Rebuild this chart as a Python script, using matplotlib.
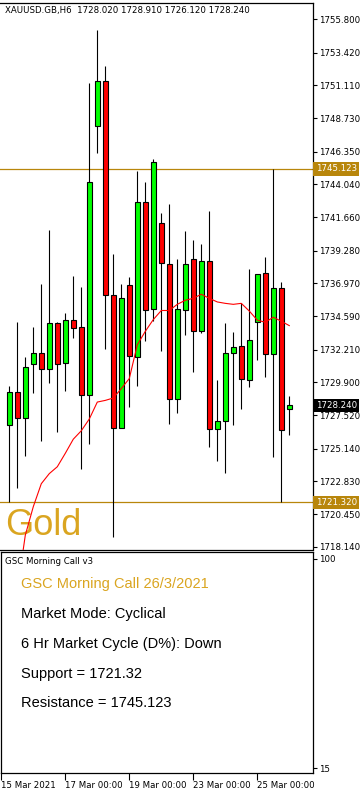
import numpy as np
import matplotlib
matplotlib.use("Agg")
import matplotlib.pyplot as plt
from matplotlib.transforms import blended_transform_factory

# H6 candles, 15 Mar - 26 Mar 2021
opens = [1726.88, 1729.14, 1727.38, 1731.21, 1731.93, 1730.85, 1734.08, 1731.28, 1734.34,
         1733.81, 1729.02, 1748.23, 1751.36, 1736.12, 1726.66, 1736.84, 1731.72, 1742.76,
         1735.13, 1741.25, 1738.33, 1728.73, 1735.06, 1738.69, 1733.57, 1738.55, 1726.59,
         1727.17, 1732.00, 1732.44, 1730.10, 1734.24, 1737.66, 1731.91, 1736.63, 1728.02]
highs = [1729.60, 1734.17, 1731.72, 1733.81, 1736.87, 1740.79, 1734.17, 1734.80, 1737.49,
         1736.70, 1751.26, 1755.06, 1752.46, 1739.08, 1736.87, 1737.37, 1745.00, 1744.21,
         1745.80, 1741.99, 1742.64, 1738.72, 1740.72, 1740.07, 1739.78, 1742.14, 1730.03,
         1734.10, 1733.45, 1735.57, 1738.00, 1737.59, 1738.81, 1745.123, 1737.08, 1728.91]
lows = [1721.32, 1722.35, 1724.62, 1729.12, 1725.70, 1729.84, 1726.30, 1729.26, 1733.04,
        1723.72, 1725.46, 1746.28, 1732.27, 1718.84, 1726.59, 1728.13, 1729.62, 1732.85,
        1734.24, 1732.12, 1726.93, 1727.70, 1733.26, 1730.63, 1733.40, 1725.29, 1724.28,
        1723.39, 1726.80, 1727.94, 1729.57, 1731.47, 1730.27, 1724.57, 1721.32, 1726.12]
closes = [1729.14, 1727.38, 1730.92, 1731.93, 1730.85, 1734.08, 1731.21, 1734.34, 1733.81,
          1729.02, 1744.16, 1751.36, 1736.12, 1726.66, 1735.86, 1731.79, 1742.76, 1735.06,
          1745.60, 1738.40, 1728.73, 1735.13, 1738.33, 1733.57, 1738.55, 1726.59, 1727.09,
          1731.93, 1732.36, 1730.15, 1732.87, 1737.59, 1731.91, 1736.63, 1726.52, 1728.24]
ma = [1711.5, 1715.0, 1718.96, 1721.00, 1722.64, 1723.36, 1723.85, 1724.81, 1725.82,
      1726.42, 1727.26, 1728.47, 1728.59, 1728.76, 1729.43, 1730.15, 1732.56, 1733.52,
      1734.36, 1735.01, 1735.01, 1735.45, 1735.74, 1735.88, 1736.17, 1735.88, 1735.62,
      1735.52, 1735.45, 1735.52, 1734.97, 1734.32, 1734.17, 1734.53, 1734.24, 1733.93]

support = 1721.32
resistance = 1745.123
price_ticks = [1755.800, 1753.420, 1751.110, 1748.730, 1746.350, 1744.040, 1741.660,
               1739.280, 1736.970, 1734.590, 1732.210, 1729.900, 1727.520, 1725.140,
               1722.830, 1720.450, 1718.140]
date_pos = [-1, 7, 15, 23, 31]
date_labels = ["15 Mar 2021", "17 Mar 00:00", "19 Mar 00:00", "23 Mar 00:00", "25 Mar 00:00"]
info_lines = ["Market Mode: Cyclical", "6 Hr Market Cycle (D%): Down",
              "Support = 1721.32", "Resistance = 1745.123"]

W, H = 362, 790
GOLD_LINE = "#B8860B"
GOLD_TEXT = "#DAA520"
SMALL = 6.2


def fx(x):
    return x / W


def fy(y):
    return 1 - y / H


fig = plt.figure(figsize=(W / 100, H / 100), dpi=100)
fig.patch.set_facecolor("white")

# ---------------- main price panel ----------------
ax = fig.add_axes([0, fy(549.5), fx(312.5), fy(3) - fy(549.5)])
ax.set_xlim(-9.3 / 8, (312.5 - 9.3) / 8)
ax.set_ylim(1718.14 - 2.8 / 14, 1755.8 + 16.4 / 14)

x = np.arange(len(opens))
o = np.array(opens)
c = np.array(closes)
up = c >= o
ax.vlines(x, lows, highs, color="black", linewidth=0.8, zorder=2)
ax.bar(x, np.abs(c - o) + 0.04, bottom=np.minimum(o, c) - 0.02, width=0.6,
       color=np.where(up, "#00FF00", "#FF0000"), edgecolor="black",
       linewidth=0.8, zorder=3)
ax.plot(x, ma, color="#FF0000", linewidth=0.8, zorder=4)

ax.axhline(resistance, color=GOLD_LINE, linewidth=0.9, zorder=1)
ax.axhline(support, color=GOLD_LINE, linewidth=0.9, zorder=1)

ax.text(fx(5), fy(535), "Gold", transform=fig.transFigure, fontsize=26,
        family="Liberation Sans", color=GOLD_TEXT, va="baseline", ha="left", zorder=0)
ax.text(fx(5), fy(10), "XAUUSD.GB,H6  1728.020 1728.910 1726.120 1728.240",
        transform=fig.transFigure, fontsize=SMALL, va="center", ha="left")

ax.yaxis.tick_right()
ax.set_yticks(price_ticks)
ax.set_yticklabels([f"{v:.3f}" for v in price_ticks])
ax.tick_params(axis="y", direction="out", length=3, width=0.8, pad=1.5,
               labelsize=SMALL)
ax.set_xticks([])
ax.spines["left"].set_visible(False)
for s in ["top", "right", "bottom"]:
    ax.spines[s].set_linewidth(0.9)

tr = blended_transform_factory(ax.transAxes, ax.transData)
for val, fc in [(resistance, GOLD_LINE), (support, GOLD_LINE), (closes[-1], "black")]:
    ax.text(1.01, val, f"{val:.3f}", transform=tr, fontsize=SMALL, color="white",
            va="center", ha="left", zorder=6,
            bbox=dict(boxstyle="square,pad=0.25", fc=fc, ec="none"))

# ---------------- indicator panel ----------------
ax2 = fig.add_axes([fx(1), fy(773), fx(312.5) - fx(1), fy(552) - fy(773)])
ax2.set_xlim((1 - 9.3) / 8, (312.5 - 9.3) / 8)
ax2.set_ylim(15 - 5 / 2.459, 100 + 7 / 2.459)
ax2.yaxis.tick_right()
ax2.set_yticks([100, 15])
ax2.set_yticklabels(["100", "15"])
ax2.tick_params(axis="y", direction="out", length=3, width=0.8, pad=1.5,
                labelsize=SMALL)
ax2.set_xticks(date_pos)
ax2.set_xticklabels(date_labels, ha="left")
ax2.tick_params(axis="x", direction="out", length=5, width=0.8, pad=1,
                labelsize=SMALL)
for s in ax2.spines.values():
    s.set_linewidth(0.9)

ax2.text(fx(5), fy(562), "GSC Morning Call v3", transform=fig.transFigure,
         fontsize=SMALL, va="center", ha="left")
ax2.text(fx(21), fy(588), "GSC Morning Call 26/3/2021", transform=fig.transFigure,
         fontsize=10.5, family="Liberation Sans", color=GOLD_TEXT, va="baseline")
for i, line in enumerate(info_lines):
    ax2.text(fx(21), fy(618 + 29.8 * i), line, transform=fig.transFigure,
             fontsize=10.5, family="Liberation Sans", color="black", va="baseline")

fig.savefig("out.png", dpi=100)
